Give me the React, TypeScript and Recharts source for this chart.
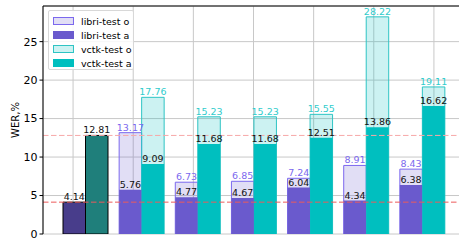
import React from 'react';
import { ComposedChart, Bar, XAxis, YAxis, CartesianGrid, ReferenceLine, LabelList, Cell } from 'recharts';

const categories = ['Original', 'K2', 'B1', 'S2', 'Q1', 'B2', 'M1'];
const libriO = [null, 13.17, 6.73, 6.85, 7.24, 8.91, 8.43];
const libriA = [4.14, 5.76, 4.77, 4.67, 6.04, 4.34, 6.38];
const vctkO = [null, 17.76, 15.23, 15.23, 15.55, 28.22, 19.11];
const vctkA = [12.81, 9.09, 11.68, 11.68, 12.51, 13.86, 16.62];
const baselines = [4.14, 12.81];
const yTicks = [0, 5, 10, 15, 20, 25];

const data = categories.map((name, i) => ({
  name,
  libriO: libriO[i],
  libriA: libriA[i],
  vctkO: vctkO[i],
  vctkA: vctkA[i],
}));

const FONT = 'DejaVu Sans, sans-serif';

const makeLabel = (color: string) => (props: any) => {
  const { x, y, width, value } = props;
  if (value == null || x == null) return null;
  return (
    <text x={x + width / 2} y={y - 2} textAnchor="middle" fill={color} fontSize={9.5} fontFamily={FONT}>
      {Number(value).toFixed(2)}
    </text>
  );
};

const legendItems = [
  { label: 'libri-test o', fill: 'rgba(106,90,205,0.2)', stroke: '#7b68ee' },
  { label: 'libri-test a', fill: '#6a5acd', stroke: '#6a5acd' },
  { label: 'vctk-test o', fill: 'rgba(0,191,191,0.2)', stroke: '#2ec4c4' },
  { label: 'vctk-test a', fill: '#00bfbf', stroke: '#00bfbf' },
];

const App: React.FC = () => {
  return (
    <div style={{ position: 'absolute', left: 0, top: 0, width: 459, height: 248, overflow: 'hidden', background: '#fff' }}>
      <ComposedChart
        width={470}
        height={262}
        data={data}
        barGap={0}
        margin={{ top: 6, right: 6, left: 0, bottom: 0 }}
      >
        <CartesianGrid stroke="#c8c8c8" strokeWidth={1} />
        <ReferenceLine xAxisId="o" y={baselines[0]} stroke="#ec5a5a" strokeDasharray="5.5 2.5" />
        <ReferenceLine xAxisId="o" y={baselines[1]} stroke="#f7a8a8" strokeDasharray="5.5 2.5" />
        <ReferenceLine xAxisId="o" y={29.63} stroke="#000" strokeWidth={1} />
        <XAxis
          dataKey="name"
          xAxisId="o"
          padding={{ left: 14, right: 14 }}
          height={28}
          tickSize={3.5}
          tickMargin={3}
          stroke="#000"
          tick={{ fill: '#000', fontSize: 11, fontFamily: FONT }}
        />
        <XAxis dataKey="name" xAxisId="a" padding={{ left: 14, right: 14 }} hide />
        <YAxis
          width={43}
          domain={[0, 29.63]}
          ticks={yTicks}
          allowDataOverflow
          tickSize={3.5}
          tickMargin={2}
          stroke="#000"
          tick={{ fill: '#000', fontSize: 11, fontFamily: FONT }}
          label={{ value: 'WER,%', angle: -90, position: 'insideLeft', dx: 10, fontSize: 10, fontFamily: FONT, fill: '#000', style: { textAnchor: 'middle' } }}
        />
        <Bar xAxisId="o" dataKey="libriO" barSize={22.5} fill="#6a5acd" fillOpacity={0.2} stroke="#7b68ee" strokeWidth={1} isAnimationActive={false}>
          <LabelList dataKey="libriO" content={makeLabel('#7b68ee')} />
        </Bar>
        <Bar xAxisId="o" dataKey="vctkO" barSize={22.5} fill="#00bfbf" fillOpacity={0.2} stroke="#2ec4c4" strokeWidth={1} isAnimationActive={false}>
          <LabelList dataKey="vctkO" content={makeLabel('#30cccc')} />
        </Bar>
        <Bar xAxisId="a" dataKey="libriA" barSize={22.5} fill="#6a5acd" isAnimationActive={false}>
          {data.map((d, i) => (
            <Cell key={d.name} fill={i === 0 ? '#483d8b' : '#6a5acd'} stroke={i === 0 ? '#000' : 'none'} />
          ))}
          <LabelList dataKey="libriA" content={makeLabel('#111')} />
        </Bar>
        <Bar xAxisId="a" dataKey="vctkA" barSize={22.5} fill="#00bfbf" isAnimationActive={false}>
          {data.map((d, i) => (
            <Cell key={d.name} fill={i === 0 ? '#1f7f7b' : '#00bfbf'} stroke={i === 0 ? '#000' : 'none'} />
          ))}
          <LabelList dataKey="vctkA" content={makeLabel('#111')} />
        </Bar>
      </ComposedChart>
      <div
        style={{
          position: 'absolute',
          left: 48,
          top: 10,
          width: 86,
          height: 60,
          boxSizing: 'border-box',
          background: 'rgba(255,255,255,0.85)',
          border: '1px solid #d8d8d8',
          borderRadius: 2,
          padding: '3px 0 0 4px',
          fontFamily: FONT,
          fontSize: 9.5,
          color: '#000',
        }}
      >
        {legendItems.map((it) => (
          <div key={it.label} style={{ display: 'flex', alignItems: 'center', height: 14 }}>
            <span
              style={{
                display: 'inline-block',
                width: 19,
                height: 6,
                background: it.fill,
                border: `1px solid ${it.stroke}`,
                marginRight: 7,
              }}
            />
            <span>{it.label}</span>
          </div>
        ))}
      </div>
    </div>
  );
};

export default App;
